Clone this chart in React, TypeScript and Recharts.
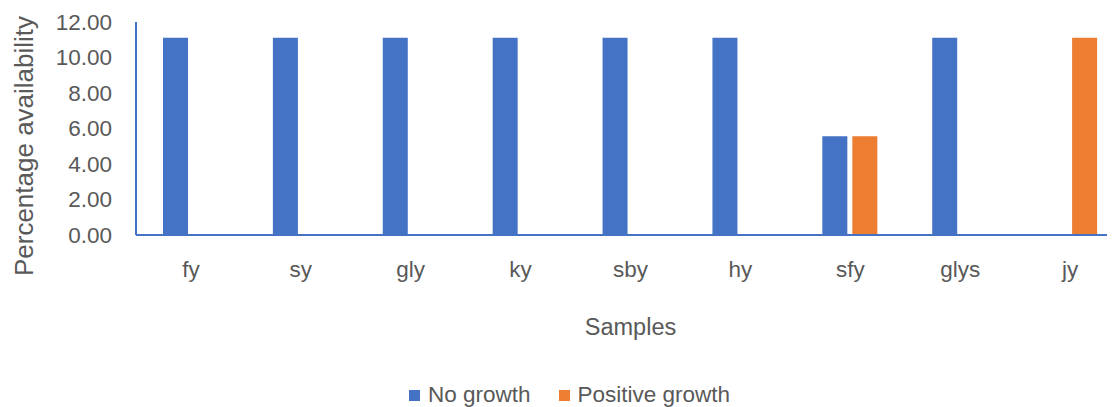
import { BarChart, Bar, XAxis, YAxis, Legend } from 'recharts';

const samples = ['fy', 'sy', 'gly', 'ky', 'sby', 'hy', 'sfy', 'glys', 'jy'];
const noGrowth = [11.11, 11.11, 11.11, 11.11, 11.11, 11.11, 5.56, 11.11, 0];
const positiveGrowth = [0, 0, 0, 0, 0, 0, 5.56, 0, 11.11];
const yTicks = [0, 2, 4, 6, 8, 10, 12];

const data = samples.map((name, i) => ({
  name,
  noGrowth: noGrowth[i],
  positiveGrowth: positiveGrowth[i],
}));

const FONT = '"Liberation Sans", Arial, sans-serif';
const GREY = '#595959';
const BLUE = '#4472C4';
const ORANGE = '#ED7D31';

function YTitle() {
  return (
    <text
      x={16}
      y={138}
      transform="rotate(-90, 16, 138)"
      textAnchor="middle"
      dominantBaseline="central"
      fill={GREY}
      fontSize={26}
      fontFamily={FONT}
    >
      Percentage availability
    </text>
  );
}

function LegendBox() {
  const item = (color: string, label: string) => (
    <div style={{ display: 'flex', alignItems: 'center', marginRight: 28 }}>
      <span style={{ width: 11, height: 11, background: color, display: 'inline-block', marginRight: 8 }} />
      <span style={{ fontSize: 22.5, color: GREY, fontFamily: FONT }}>{label}</span>
    </div>
  );
  return (
    <div style={{ display: 'flex', marginLeft: 401, height: 24, alignItems: 'center' }}>
      {item(BLUE, 'No growth')}
      {item(ORANGE, 'Positive growth')}
    </div>
  );
}

export default function App() {
  return (
    <div style={{ width: 1107, height: 399, overflow: 'hidden' }}>
      <BarChart
        width={1117}
        height={399}
        data={data}
        margin={{ top: 14, right: 0, left: 0, bottom: 0 }}
        barSize={25}
        barGap={5}
      >
        <XAxis
          dataKey="name"
          height={148}
          axisLine={{ stroke: BLUE, strokeWidth: 2 }}
          tickLine={false}
          tickSize={0}
          tickMargin={26}
          tick={{ fill: GREY, fontSize: 22.5, fontFamily: FONT }}
          label={{ value: 'Samples', position: 'insideBottom', offset: 48, fill: GREY, fontSize: 23.5, fontFamily: FONT }}
        />
        <YAxis
          width={128}
          domain={[0, 12]}
          ticks={yTicks}
          interval={0}
          axisLine={{ stroke: BLUE, strokeWidth: 2 }}
          tickLine={false}
          tickSize={0}
          tickMargin={24}
          tickFormatter={(v: number) => v.toFixed(2)}
          tick={{ fill: GREY, fontSize: 22.5, fontFamily: FONT }}
          label={<YTitle />}
        />
        <Legend verticalAlign="bottom" content={<LegendBox />} wrapperStyle={{ left: 0, width: 1107 }} />
        <Bar dataKey="noGrowth" name="No growth" fill={BLUE} isAnimationActive={false} />
        <Bar dataKey="positiveGrowth" name="Positive growth" fill={ORANGE} isAnimationActive={false} />
      </BarChart>
    </div>
  );
}
